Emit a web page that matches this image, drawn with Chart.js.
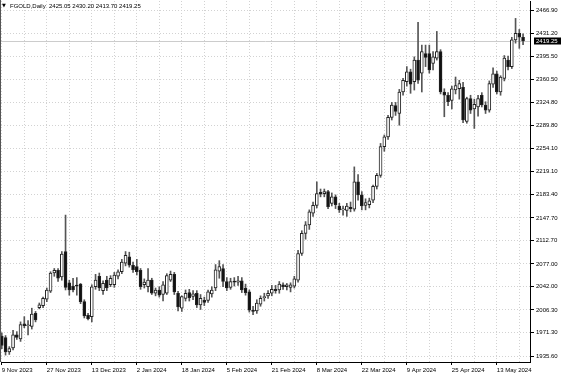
<!DOCTYPE html>
<html>
<head>
<meta charset="utf-8">
<script src="https://cdn.jsdelivr.net/npm/chart.js@4"></script>
<style>
  html, body { margin: 0; padding: 0; background: #fff; }
  canvas { display: block; }
</style>
</head>
<body>
<canvas id="chart" width="564" height="376"></canvas>
<script>
const symbolName = 'FGOLD,Daily';

// daily bars, oldest first (one value per bar)
const opens = [
  1966, 1964, 1942, 1948, 1968, 1962, 1985, 1982, 1981, 2001,
  2010, 2013, 2023, 2035, 2063, 2067, 2057, 2096, 2048, 2043,
  2044, 2046, 2019, 1998, 1996, 2042, 2058, 2036, 2052, 2045,
  2045, 2058, 2065, 2078, 2088, 2075, 2073, 2067, 2045, 2042,
  2052, 2032, 2037, 2030, 2032, 2052, 2061, 2032, 2009, 2024,
  2033, 2027, 2032, 2014, 2021, 2021, 2031, 2040, 2066, 2070,
  2050, 2041, 2050, 2049, 2051, 2040, 2034, 2006, 2005, 2015,
  2025, 2028, 2032, 2038, 2037, 2045, 2042, 2041, 2043, 2052,
  2093, 2124, 2137, 2155, 2167, 2187, 2185, 2188, 2170, 2180,
  2166, 2160, 2159, 2164, 2161, 2203, 2183, 2167, 2168, 2175,
  2196, 2213, 2257, 2272, 2302, 2320, 2308, 2341, 2357, 2372,
  2357, 2390, 2370, 2400, 2400, 2385, 2393, 2403, 2341, 2336,
  2328, 2344, 2346, 2348, 2296, 2331, 2315, 2318, 2336, 2321,
  2313, 2353, 2369, 2341, 2362, 2390, 2380, 2421, 2431, 2425.05
];
const highs = [
  1971, 1967, 1950, 1975, 1973, 1988, 1996, 1990, 2009, 2004,
  2017, 2026, 2040, 2065, 2070, 2070, 2096, 2152, 2052, 2055,
  2056, 2047, 2022, 2001, 2045, 2061, 2063, 2051, 2058, 2059,
  2064, 2068, 2084, 2096, 2095, 2080, 2084, 2070, 2054, 2070,
  2055, 2040, 2042, 2050, 2062, 2066, 2064, 2035, 2028, 2037,
  2038, 2036, 2036, 2030, 2026, 2037, 2042, 2076, 2082, 2076,
  2056, 2055, 2056, 2058, 2056, 2046, 2037, 2012, 2022, 2028,
  2032, 2036, 2044, 2044, 2050, 2048, 2047, 2048, 2058, 2098,
  2128, 2142, 2160, 2172, 2203, 2192, 2192, 2190, 2186, 2183,
  2170, 2166, 2170, 2172, 2226, 2214, 2188, 2177, 2178, 2198,
  2216, 2262, 2275, 2305, 2325, 2325, 2345, 2362, 2380, 2376,
  2395, 2448, 2413, 2413, 2413, 2403, 2434, 2406, 2346, 2340,
  2350, 2364, 2359, 2356, 2333, 2336, 2330, 2336, 2340, 2326,
  2358, 2378, 2373, 2366, 2397, 2396, 2425, 2454, 2437, 2430.20
];
const lows = [
  1947, 1937, 1938, 1945, 1961, 1958, 1979, 1968, 1977, 1988,
  2008, 2010, 2019, 2033, 2058, 2050, 2052, 2037, 2029, 2034,
  2029, 2016, 1994, 1991, 1988, 2038, 2036, 2030, 2036, 2042,
  2041, 2054, 2062, 2074, 2072, 2064, 2060, 2038, 2040, 2034,
  2030, 2028, 2026, 2020, 2030, 2050, 2030, 2005, 2004, 2020,
  2020, 2022, 2010, 2007, 2013, 2018, 2026, 2036, 2055, 2042,
  2036, 2038, 2043, 2044, 2033, 2029, 2003, 1999, 2001, 2012,
  2020, 2024, 2028, 2032, 2032, 2038, 2037, 2034, 2040, 2049,
  2090, 2115, 2130, 2150, 2163, 2180, 2180, 2162, 2166, 2162,
  2156, 2152, 2150, 2157, 2158, 2175, 2160, 2160, 2163, 2171,
  2192, 2210, 2250, 2268, 2298, 2305, 2290, 2336, 2350, 2339,
  2344, 2354, 2341, 2380, 2370, 2375, 2390, 2338, 2303, 2320,
  2315, 2338, 2330, 2294, 2293, 2308, 2285, 2304, 2318, 2308,
  2310, 2348, 2338, 2336, 2358, 2375, 2377, 2416, 2408, 2413.70
];
const closes = [
  1952, 1942, 1947, 1968, 1964, 1984, 1982, 1983, 2000, 1991,
  2014, 2024, 2037, 2063, 2067, 2055, 2092, 2041, 2037, 2037,
  2043, 2019, 1997, 1993, 2042, 2052, 2040, 2047, 2040, 2055,
  2060, 2065, 2080, 2090, 2075, 2068, 2065, 2042, 2049, 2052,
  2032, 2037, 2029, 2045, 2059, 2061, 2034, 2011, 2027, 2032,
  2025, 2031, 2014, 2024, 2018, 2034, 2037, 2068, 2073, 2050,
  2040, 2050, 2049, 2051, 2037, 2033, 2006, 2004, 2017, 2024,
  2027, 2032, 2038, 2036, 2046, 2042, 2045, 2045, 2054, 2093,
  2124, 2137, 2157, 2167, 2185, 2184, 2188, 2165, 2180, 2168,
  2160, 2161, 2166, 2162, 2203, 2183, 2166, 2171, 2174, 2196,
  2213, 2257, 2272, 2302, 2321, 2311, 2341, 2359, 2372, 2353,
  2390, 2359, 2403, 2394, 2375, 2395, 2403, 2341, 2336, 2326,
  2346, 2351, 2354, 2298, 2331, 2313, 2322, 2331, 2321, 2313,
  2354, 2369, 2341, 2364, 2393, 2380, 2421, 2431, 2425, 2419.25
];

// time axis labels and the bar they sit on
const dateLabels = ['9 Nov 2023', '27 Nov 2023', '13 Dec 2023', '2 Jan 2024', '18 Jan 2024', '5 Feb 2024',
  '21 Feb 2024', '8 Mar 2024', '22 Mar 2024', '9 Apr 2024', '25 Apr 2024', '13 May 2024'];
const dateIndex = [0, 12, 24, 36, 48, 60, 72, 84, 96, 108, 120, 132];

// price scale labels as printed on the right
const priceTicks = [2466.90, 2431.20, 2395.50, 2360.50, 2324.80, 2289.80, 2254.10, 2219.10,
  2183.40, 2147.70, 2112.70, 2077.00, 2042.00, 2006.30, 1971.30, 1935.60];

const last = closes.length - 1;
const lastPrice = closes[last];

Chart.defaults.font.family = '"Liberation Sans", Arial, sans-serif';
Chart.defaults.font.size = 6;
Chart.defaults.color = '#000';

function fmt(v) {
  return v.toFixed(2);
}

function isUp(i) {
  return closes[i] >= opens[i];
}

const overlay = {
  id: 'overlay',
  beforeDatasetsDraw(chart) {
    const { ctx, chartArea } = chart;
    const y = Math.round(chart.scales.y.getPixelForValue(lastPrice)) + 0.5;
    ctx.save();
    ctx.strokeStyle = '#cccccc';
    ctx.lineWidth = 1;
    ctx.beginPath();
    ctx.moveTo(chartArea.left, y);
    ctx.lineTo(chartArea.right, y);
    ctx.stroke();
    ctx.restore();
  },
  afterDraw(chart) {
    const { ctx, chartArea } = chart;
    ctx.save();
    // left frame line
    ctx.strokeStyle = '#555';
    ctx.lineWidth = 1;
    ctx.beginPath();
    ctx.moveTo(0.5, 0);
    ctx.lineTo(0.5, chartArea.bottom);
    ctx.stroke();

    // current price box on the price scale
    const y = Math.round(chart.scales.y.getPixelForValue(lastPrice));
    ctx.fillStyle = '#000';
    ctx.fillRect(chartArea.right + 4, y - 3.5, 27, 7);
    ctx.fillStyle = '#fff';
    ctx.font = '6px "Liberation Sans", Arial, sans-serif';
    ctx.textBaseline = 'middle';
    ctx.textAlign = 'left';
    ctx.fillText(fmt(lastPrice), chartArea.right + 6, y + 0.5);

    // symbol header
    ctx.fillStyle = '#000';
    ctx.font = '5px "DejaVu Sans", sans-serif';
    ctx.fillText('\u25BC', 2, 6);
    ctx.font = '6px "Liberation Sans", Arial, sans-serif';
    const header = symbolName + '  ' + fmt(opens[last]) + ' ' + fmt(highs[last]) + ' ' +
      fmt(lows[last]) + ' ' + fmt(closes[last]);
    ctx.fillText(header, 10, 6.5);
    ctx.restore();
  }
};

const bodies = opens.map((o, i) => ({ x: i, y: [o, closes[i]] }));
const wicks = highs.map((h, i) => ({ x: i, y: [lows[i], h] }));

const gridEvery = 6;

new Chart(document.getElementById('chart').getContext('2d'), {
  type: 'bar',
  data: {
    datasets: [
      {
        label: 'body',
        data: bodies,
        grouped: false,
        barThickness: 3,
        borderWidth: 1,
        borderSkipped: false,
        minBarLength: 1,
        borderColor: '#222',
        backgroundColor: c => isUp(c.dataIndex) ? '#fff' : '#111'
      },
      {
        label: 'wick',
        data: wicks,
        grouped: false,
        barThickness: 1,
        borderWidth: 0,
        backgroundColor: '#555'
      }
    ]
  },
  options: {
    responsive: false,
    animation: false,
    events: [],
    layout: { padding: { left: 1, top: 1, right: 0, bottom: 0 } },
    plugins: {
      legend: { display: false },
      tooltip: { enabled: false }
    },
    scales: {
      x: {
        type: 'linear',
        min: -0.213,
        max: 140.85,
        offset: false,
        afterBuildTicks: scale => {
          const t = [];
          for (let v = 0; v <= last; v += gridEvery) t.push({ value: v });
          scale.ticks = t;
        },
        afterFit: scale => {
          scale.height = 14;
          scale.paddingLeft = 0;
          scale.paddingRight = 0;
        },
        ticks: {
          autoSkip: false,
          maxRotation: 0,
          minRotation: 0,
          align: 'start',
          padding: 2,
          color: '#000',
          callback: value => {
            const k = dateIndex.indexOf(value);
            return k >= 0 ? dateLabels[k] : '';
          }
        },
        grid: {
          offset: false,
          color: '#d2d2d2',
          tickLength: 3,
          tickColor: c => (c.tick && dateIndex.indexOf(c.tick.value) >= 0) ? '#000' : 'rgba(0,0,0,0)'
        },
        border: { color: '#000', dash: [1, 2] }
      },
      y: {
        position: 'right',
        min: 1926.39,
        max: 2480.72,
        afterBuildTicks: scale => {
          scale.ticks = priceTicks.map(v => ({ value: v }));
        },
        afterFit: scale => {
          scale.width = 34;
          scale.paddingTop = 0;
          scale.paddingBottom = 0;
        },
        ticks: {
          padding: 2,
          color: '#000',
          callback: value => fmt(value)
        },
        grid: {
          color: '#d2d2d2',
          tickLength: 4,
          tickColor: '#000'
        },
        border: { color: '#000', dash: [1, 2] }
      }
    }
  },
  plugins: [overlay]
});
</script>
</body>
</html>
